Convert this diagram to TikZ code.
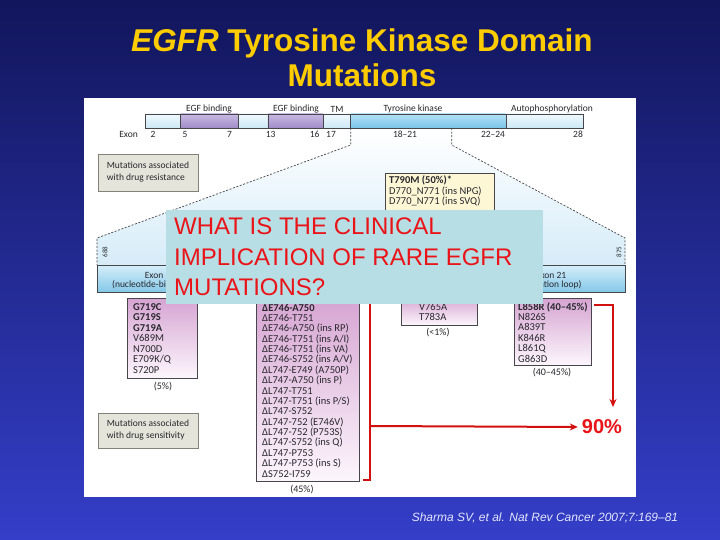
\documentclass[tikz,border=0pt]{standalone}
\usepackage{fontspec}
\setmainfont{Liberation Sans}
\newfontfamily\figfont{Carlito}
\usetikzlibrary{arrows.meta}
\definecolor{bgtop}{RGB}{18,22,92}
\definecolor{bgbot}{RGB}{52,62,200}
\definecolor{titlegold}{RGB}{255,204,0}
\definecolor{figtext}{RGB}{40,40,45}
\definecolor{figline}{RGB}{70,70,75}
\definecolor{seglighttop}{RGB}{240,249,253}
\definecolor{seglightbot}{RGB}{205,232,245}
\definecolor{segpurptop}{RGB}{200,186,226}
\definecolor{segpurpbot}{RGB}{160,140,200}
\definecolor{segkintop}{RGB}{180,225,245}
\definecolor{segkinbot}{RGB}{120,196,232}
\definecolor{trapbot}{RGB}{214,236,248}
\definecolor{exontop}{RGB}{214,238,250}
\definecolor{exonbot}{RGB}{132,200,232}
\definecolor{mutop}{RGB}{214,164,210}
\definecolor{mubot}{RGB}{252,246,252}
\definecolor{resfill}{RGB}{253,247,214}
\definecolor{grayfill}{RGB}{228,228,218}
\definecolor{grayline}{RGB}{130,130,120}
\definecolor{qfill}{RGB}{184,222,229}
\definecolor{qred}{RGB}{232,20,24}
\definecolor{bred}{RGB}{210,16,16}
\definecolor{captioncol}{RGB}{228,230,250}
\tikzset{
  figlabel/.style={font=\figfont\fontsize{9.5}{10.4}\selectfont, text=figtext, inner sep=0pt},
  ticklabel/.style={font=\figfont\fontsize{7}{8}\selectfont, text=figtext, inner sep=0pt, rotate=90},
  mutline/.style={font=\figfont\fontsize{10.5}{10.4}\selectfont, text=figtext, inner sep=0pt, anchor=base west},
  pctlabel/.style={font=\figfont\fontsize{10}{10.4}\selectfont, text=figtext, inner sep=0pt},
  lightseg/.style={draw=figline, line width=0.8pt, top color=seglighttop, bottom color=seglightbot},
  purpseg/.style={draw=figline, line width=0.8pt, top color=segpurptop, bottom color=segpurpbot},
  kinseg/.style={draw=figline, line width=0.8pt, top color=segkintop, bottom color=segkinbot},
  dashline/.style={draw=figline, line width=0.7pt, dash pattern=on 2pt off 1.6pt},
  exonbar/.style={draw=figline, line width=0.8pt, top color=exontop, bottom color=exonbot},
  mutbox/.style={draw=figline, line width=0.8pt, top color=mutop, bottom color=mubot},
  resbox/.style={draw=figline, line width=0.8pt, fill=resfill},
  graybox/.style={draw=grayline, line width=0.8pt, fill=grayfill, minimum width=100pt, align=left,
    font=\figfont\fontsize{9.5}{12}\selectfont, text=figtext, inner sep=0pt},
  qpanel/.style={fill=qfill, inner sep=0pt, anchor=north west},
  qline/.style={font=\fontsize{24}{28}\selectfont, text=qred, anchor=base west, inner sep=0pt},
  redline/.style={draw=bred, line width=2pt},
  redarrow/.style={draw=bred, line width=2pt, -{Stealth[length=8pt,width=7pt]}},
  titletext/.style={font=\bfseries\fontsize{31.5}{36}\selectfont, text=titlegold, anchor=base, inner sep=0pt},
}
\begin{document}
\begin{tikzpicture}[x=1pt,y=-1pt]
\useasboundingbox (0,0) rectangle (720,540);
\shade[top color=bgtop, bottom color=bgbot] (0,0) rectangle (720,540);

% title
\node[titletext] (title1) at (362,52) {\textit{EGFR} Tyrosine Kinase Domain};
\node[titletext] (title2) at (362,87) {Mutations};

% figure panel
\fill[white] (84,98) rectangle (636,497);

% magnification trapezoid
\shade[top color=white, bottom color=trapbot]
  (350.7,128) -- (451.7,128) -- (451.7,145) -- (625,238) -- (625,265) -- (97,265) -- (97,238) -- (350.7,145) -- cycle;
\draw[dashline] (350.7,128) -- (350.7,145) -- (97,238) -- (97,265);
\draw[dashline] (451.7,128) -- (451.7,145) -- (625,238) -- (625,265);

% protein bar
\shadedraw[lightseg] (145.7,114) rectangle (180.4,128);
\shadedraw[purpseg]  (180.4,114) rectangle (238.6,128);
\shadedraw[lightseg] (238.6,114) rectangle (267.9,128);
\shadedraw[purpseg]  (267.9,114) rectangle (323.6,128);
\shadedraw[lightseg] (323.6,114) rectangle (350.7,128);
\shadedraw[kinseg]   (350.7,114) rectangle (506.7,128);
\shadedraw[lightseg] (506.7,114) rectangle (583,128);

\node[figlabel] (lEGF1) at (209,109) {EGF binding};
\node[figlabel] (lEGF2) at (296,109) {EGF binding};
\node[figlabel] (lTM) at (337,109) {TM};
\node[figlabel] (lTK) at (413,109) {Tyrosine kinase};
\node[figlabel] (lAP) at (552,109) {Autophosphorylation};

\node[figlabel] (ex0) at (128.6,134) {Exon};
\node[figlabel] (ex1) at (153,134) {2};
\node[figlabel] (ex2) at (185,134) {5};
\node[figlabel] (ex3) at (229.6,134) {7};
\node[figlabel] (ex4) at (270.7,134) {13};
\node[figlabel] (ex5) at (314.6,134) {16};
\node[figlabel] (ex6) at (331,134) {17};
\node[figlabel] (ex7) at (405,134) {18–21};
\node[figlabel] (ex8) at (493,134) {22–24};
\node[figlabel] (ex9) at (578,134) {28};

% legend boxes
\node[graybox, minimum height=37pt] (resleg) at (148,172.5) {Mutations associated\\with drug resistance};
\node[graybox, minimum height=35pt] (senleg) at (148,430.5) {Mutations associated\\with drug sensitivity};

% resistance box
\draw[resbox] (385,173) rectangle (494,236);
\foreach \t [count=\i from 0] in {{\bfseries T790M (50\%)*},D770\_N771 (ins NPG),D770\_N771 (ins SVQ)}
  \node[mutline] (res-\i) at ({389},{184+10.5*\i}) {\t};

% exon bar
\shadedraw[exonbar] (97,265) rectangle (625,292);
\draw[figline, line width=0.8pt] (223,265) -- (223,292);
\draw[figline, line width=0.8pt] (477,265) -- (477,292);
\node[figlabel] (bx18a) at (160,275) {Exon 18};
\node[figlabel] (bx18b) at (161,285) {(nucleotide-binding loop)};
\node[figlabel] (bx21a) at (551,275) {Exon 21};
\node[figlabel] (bx21b) at (550,285) {(activation loop)};
\node[ticklabel] (t688) at (105,252) {688};
\node[ticklabel] (t875) at (619,252) {875};

% mutation boxes
\shadedraw[mutbox] (127,298) rectangle (197,378);
\foreach \t [count=\i from 0] in {{\bfseries G719C},{\bfseries G719S},{\bfseries G719A},V689M,N700D,E709K/Q,S720P}
  \node[mutline] (e18-\i) at ({133},{310+10.5*\i}) {\t};
\node[pctlabel] (p18) at (163,387) {(5\%)};

\shadedraw[mutbox] (256,297) rectangle (359,481);
\foreach \t [count=\i from 0] in {{\bfseries ΔE746-A750},ΔE746-T751,ΔE746-A750 (ins RP),ΔE746-T751 (ins A/I),ΔE746-T751 (ins VA),ΔE746-S752 (ins A/V),ΔL747-E749 (A750P),ΔL747-A750 (ins P),ΔL747-T751,ΔL747-T751 (ins P/S),ΔL747-S752,ΔL747-752 (E746V),ΔL747-752 (P753S),ΔL747-S752 (ins Q),ΔL747-P753,ΔL747-P753 (ins S),ΔS752-I759}
  \node[mutline] (e19-\i) at ({262},{311+10.375*\i}) {\t};
\node[pctlabel] (p19) at (302,490) {(45\%)};

\shadedraw[mutbox] (401,297) rectangle (477,325);
\foreach \t [count=\i from 0] in {V765A,T783A}
  \node[mutline] (e20-\i) at ({419},{310+10*\i}) {\t};
\node[pctlabel] (p20) at (438,333) {(<1\%)};

\shadedraw[mutbox] (514,298) rectangle (591,365);
\foreach \t [count=\i from 0] in {{\bfseries L858R (40–45\%)},N826S,A839T,K846R,L861Q,G863D}
  \node[mutline] (e21-\i) at ({518},{310+10.4*\i}) {\t};
\node[pctlabel] (p21) at (552,373) {(40–45\%)};

% red bracket and arrows
\node[font=\bfseries\fontsize{20}{24}\selectfont, text=qred, inner sep=2pt] (pct) at (602,427) {90\%};
\coordinate (brkTop) at (365,298);
\coordinate (brkBot) at (363,480);
\coordinate (brk) at (370,426);
\coordinate (e21r) at (594,305);
\coordinate (tipA) at (613,407);
\draw[redline] (brkTop) -- (370,298) -- (370,480) -- (brkBot);
\draw[redarrow, shorten >=2pt] (brk) -- (pct.west);
\draw[redarrow] (e21r) -| (tipA);

% question panel
\node[qpanel, minimum width=377pt, minimum height=94pt] (qbox) at (166,210) {};
\node[qline] (q1) at (174,235) {WHAT IS THE CLINICAL};
\node[qline] (q2) at (174,265) {IMPLICATION OF RARE EGFR};
\node[qline] (q3) at (174,295) {MUTATIONS?};

% caption
\node[font=\itshape\fontsize{12}{14}\selectfont, text=captioncol, anchor=base, inner sep=0pt] (cap) at (545,521) {Sharma SV, et al. Nat Rev Cancer 2007;7:169–81};
\end{tikzpicture}
\end{document}
